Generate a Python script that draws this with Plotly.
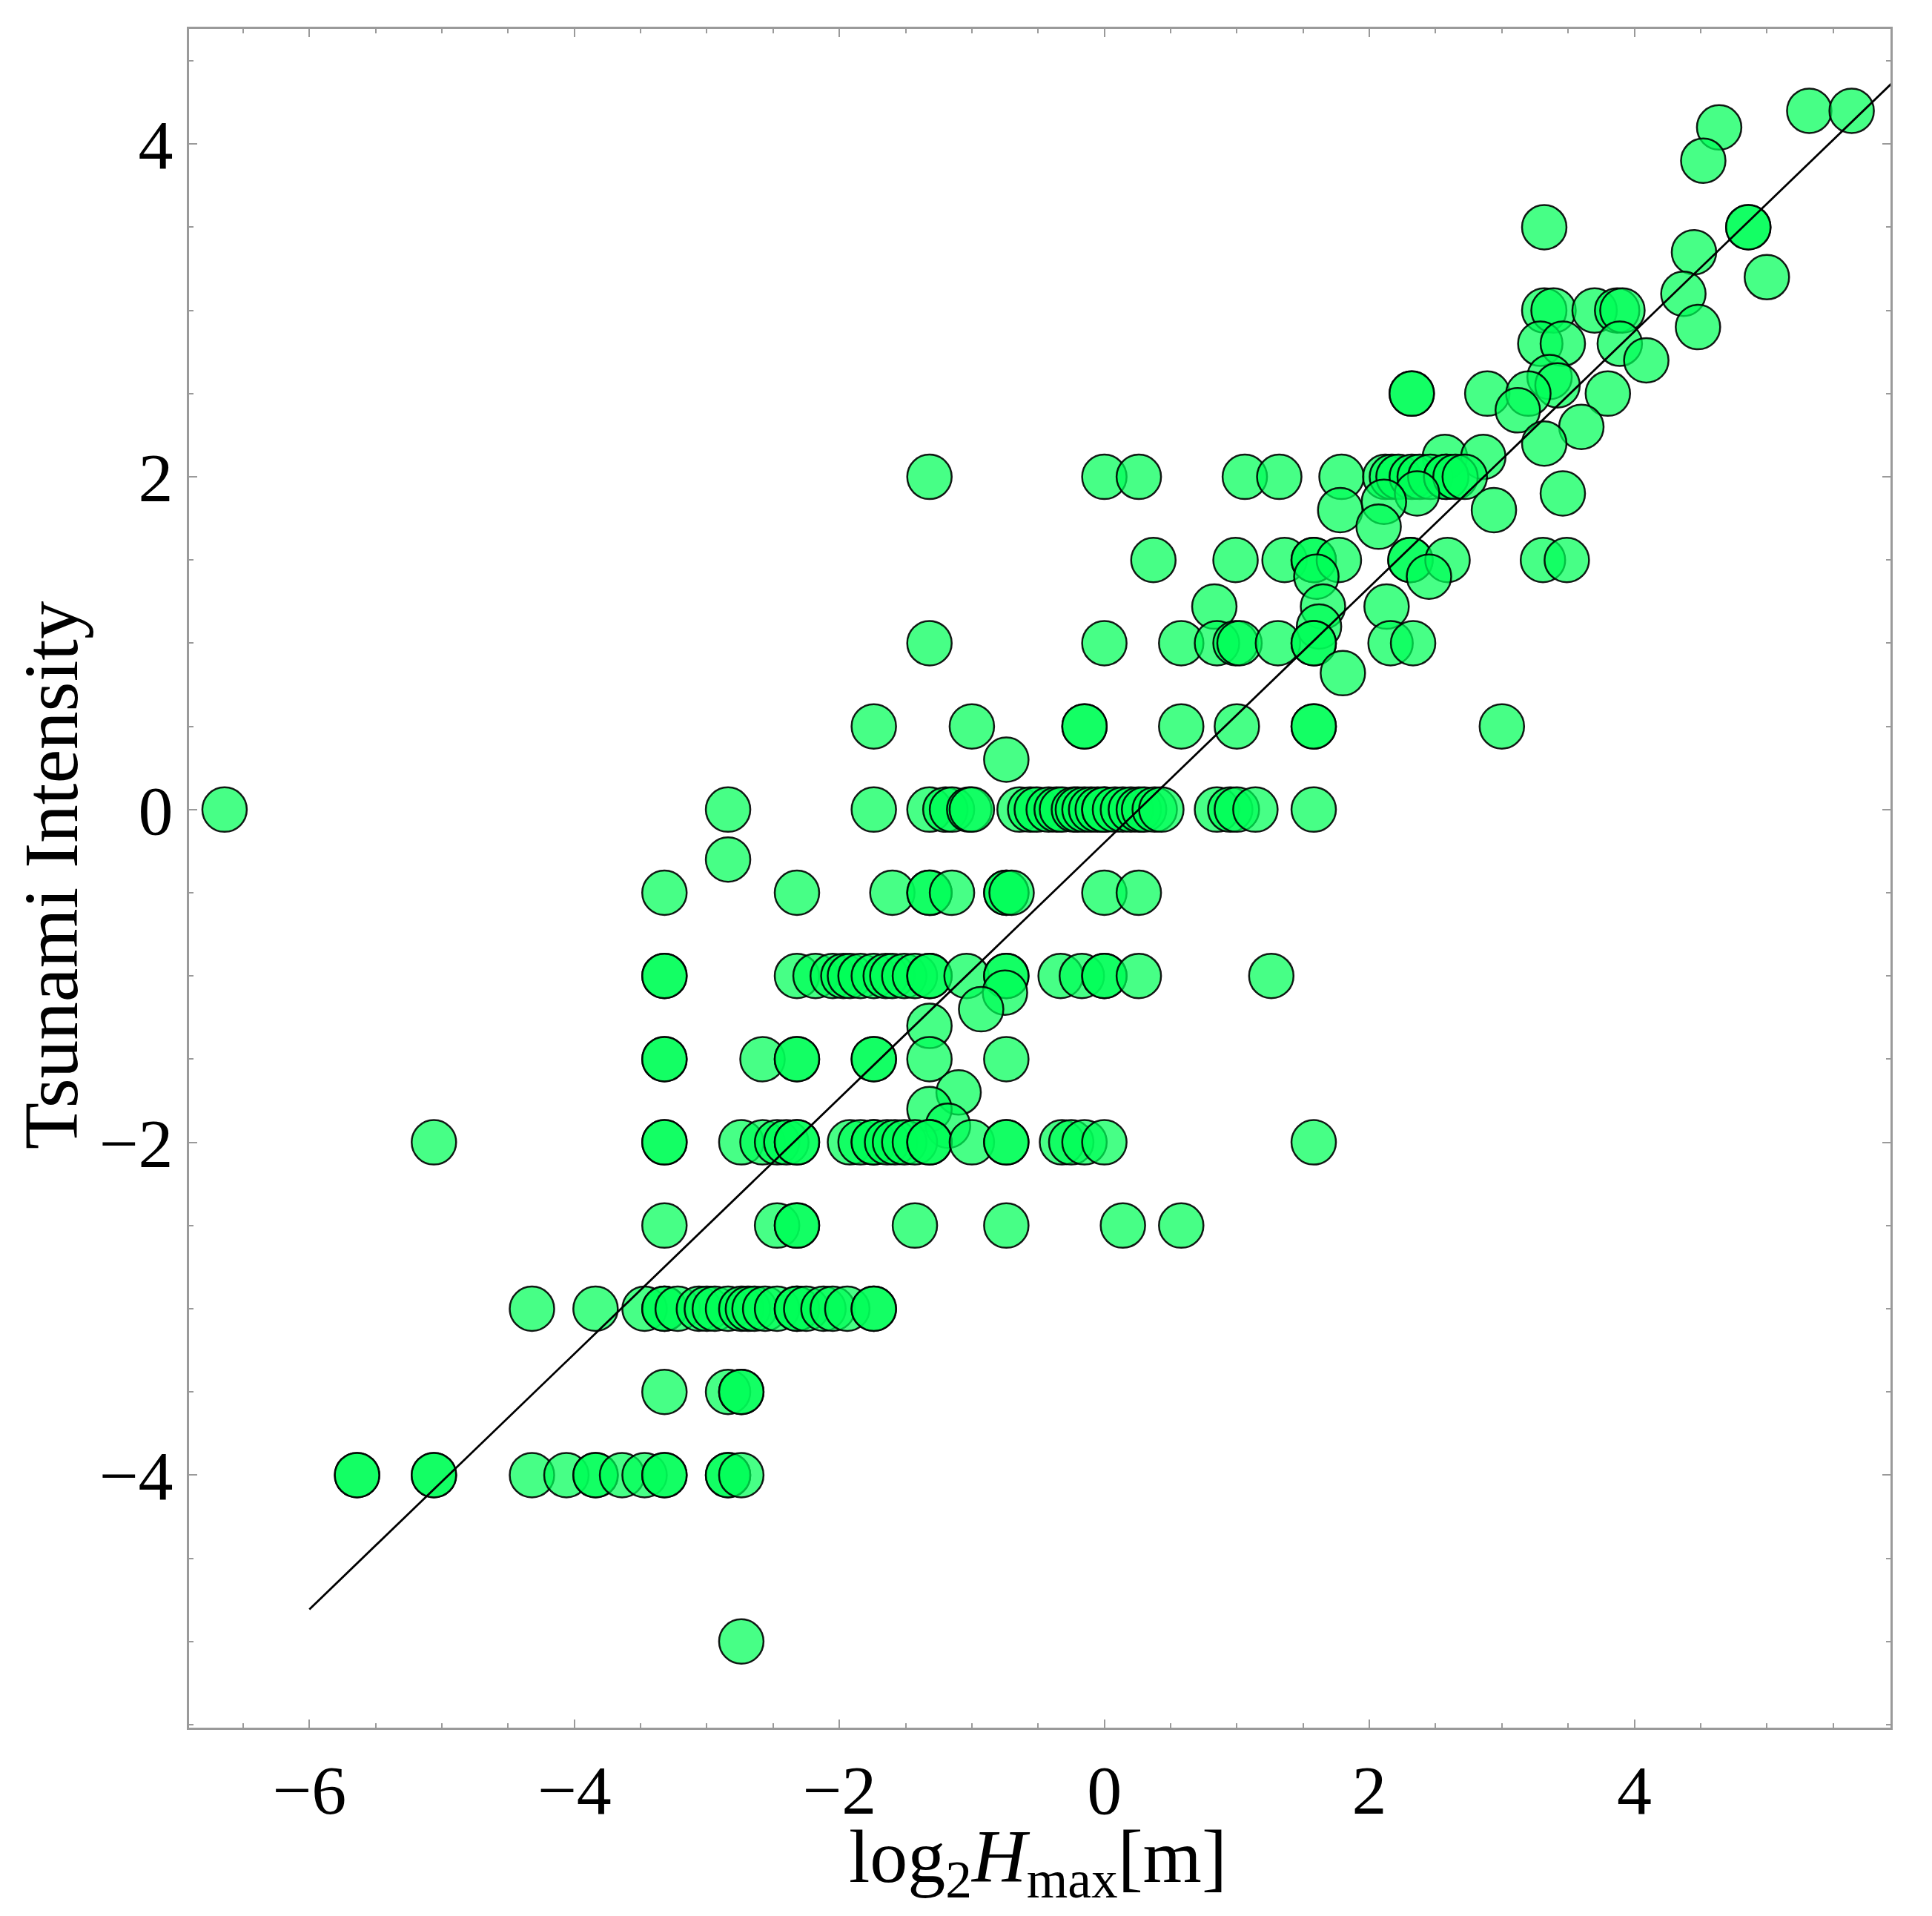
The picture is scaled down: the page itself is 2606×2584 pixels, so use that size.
import plotly.graph_objects as go

# log2 of max tsunami height [m] and tsunami intensity, read row by row
log2_hmax = [
    5.32, 5.64,
    4.64,
    4.52,
    3.32, 4.86, 4.86,
    4.45,
    5.0,
    4.37,
    3.32, 3.39, 3.70, 3.87, 3.91,
    4.48,
    3.29, 3.46, 3.89,
    4.09,
    3.36,
    3.42,
    2.32, 2.32, 2.89, 3.2, 3.8,
    3.12,
    3.6,
    3.32,
    2.57, 2.86,
    -1.32, 0.0, 0.26, 1.06, 1.32, 1.79, 2.12, 2.17, 2.22, 2.32, 2.38, 2.46, 2.58, 2.58, 2.65, 2.72,
    2.36, 3.46,
    2.11,
    1.78, 2.94,
    2.07,
    0.37, 0.99, 1.36, 1.58, 1.58, 1.77, 2.31, 2.31, 2.59, 3.31, 3.49,
    1.6, 2.45,
    0.83, 1.65, 2.13,
    1.62,
    -1.32, 0.0, 0.58, 0.85, 0.99, 1.02, 1.31, 1.58, 1.58, 2.16, 2.33,
    1.8,
    -1.74, -1.0, -0.15, -0.15, 0.58, 1.0, 1.58, 1.58, 3.0,
    -0.74,
    -6.64, -2.84, -1.74, -1.32, -1.2, -1.15, -1.02, -1.0, -0.64, -0.56, -0.51, -0.42,
    -0.36, -0.32, -0.23, -0.2, -0.15, -0.1, -0.05, 0.0, 0.0, 0.08, 0.14, 0.2, 0.26,
    0.3, 0.38, 0.43, 0.85, 0.95, 1.0, 1.14, 1.58,
    -2.84,
    -3.32, -2.32, -1.6, -1.32, -1.32, -1.15, -0.74, -0.74, -0.70, 0.0, 0.26,
    -3.32, -3.32, -2.32, -2.18, -2.05, -1.97, -1.92, -1.84, -1.74, -1.65, -1.6, -1.51,
    -1.43, -1.32, -1.32, -1.04, -0.74, -0.74, -0.33, -0.17, 0.0, 0.0, 0.26, 1.26,
    -0.75,
    -0.93,
    -1.32,
    -3.32, -3.32, -2.58, -2.32, -2.32, -1.74, -1.74, -1.32, -0.74,
    -1.1,
    -1.32,
    -1.18,
    -5.06, -3.32, -3.32, -2.74, -2.58, -2.47, -2.4, -2.32, -2.32, -1.92, -1.84, -1.74,
    -1.74, -1.64, -1.58, -1.51, -1.43, -1.32, -1.32, -1.0, -0.74, -0.74, -0.32, -0.25,
    -0.15, 0.0, 1.58,
    -3.32, -2.47, -2.32, -2.32, -1.43, -0.74, 0.14, 0.58,
    -4.32, -3.84, -3.47, -3.32, -3.32, -3.22, -3.06, -3.0, -2.94, -2.84, -2.74, -2.69,
    -2.64, -2.56, -2.47, -2.32, -2.32, -2.25, -2.12, -2.05, -1.94, -1.74, -1.74,
    -3.32, -2.84, -2.74, -2.74,
    -5.64, -5.64, -5.06, -5.06, -4.32, -4.06, -3.84, -3.84, -3.64, -3.47, -3.32, -3.32,
    -2.84, -2.84, -2.74,
    -2.74,
]

tsunami_intensity = (
    [4.2] * 2 + [4.1] + [3.9] + [3.5] * 3 + [3.35] + [3.2] + [3.1] + [3.0] * 5
    + [2.9] + [2.8] * 3 + [2.7] + [2.6] + [2.55] + [2.5] * 5 + [2.4] + [2.3] + [2.2]
    + [2.12] * 2 + [2.0] * 16 + [1.9] * 2 + [1.85] + [1.8] * 2 + [1.7] + [1.5] * 11
    + [1.4] * 2 + [1.22] * 3 + [1.1] + [1.0] * 11 + [0.82] + [0.5] * 9 + [0.3]
    + [0.0] * 33 + [-0.3] + [-0.5] * 11 + [-1.0] * 24 + [-1.1] + [-1.2] + [-1.3]
    + [-1.5] * 9 + [-1.7] + [-1.8] + [-1.9] + [-2.0] * 27 + [-2.5] * 8 + [-3.0] * 23
    + [-3.5] * 4 + [-4.0] * 15 + [-5.0]
)

# fitted line
fit_slope = 0.768
fit_intercept = -0.199
fit_x = [-6.0, 6.0]

X_TITLE = "log<sub>2</sub><i>H</i><sub>max</sub>[m]"
Y_TITLE = "Tsunami Intensity"

FONT = "Liberation Serif"
FRAME = "#9a9a9a"

fig = go.Figure()

fig.add_trace(go.Scatter(
    x=log2_hmax,
    y=tsunami_intensity,
    mode="markers",
    marker=dict(
        size=60,
        color="rgba(0,255,88,0.72)",
        line=dict(color="rgba(0,0,0,0.9)", width=2.5),
    ),
    showlegend=False,
))

fig.add_trace(go.Scatter(
    x=fit_x,
    y=[fit_slope * v + fit_intercept for v in fit_x],
    mode="lines",
    line=dict(color="black", width=2.8),
    showlegend=False,
))

axis_style = dict(
    showline=True,
    linecolor=FRAME,
    linewidth=2.5,
    mirror="ticks",
    ticks="inside",
    ticklen=11,
    tickwidth=2,
    tickcolor=FRAME,
    dtick=2,
    showgrid=False,
    zeroline=False,
    automargin=False,
    tickfont=dict(family=FONT, size=94, color="black"),
    minor=dict(dtick=0.5, ticks="inside", ticklen=6, tickwidth=1.5, tickcolor=FRAME, showgrid=False),
)

fig.update_xaxes(range=[-6.908, 5.933], tick0=0, **axis_style)
fig.update_yaxes(range=[-5.518, 4.692], tick0=0, **axis_style)

# axis titles as annotations so they sit where the reference has them
fig.add_annotation(
    text=X_TITLE, xref="paper", yref="paper", x=0.499, y=-0.079,
    xanchor="center", yanchor="middle", showarrow=False,
    font=dict(family=FONT, size=102, color="black"),
)
fig.add_annotation(
    text=Y_TITLE, xref="paper", yref="paper", x=-0.081, y=0.502,
    xanchor="center", yanchor="middle", textangle=-90, showarrow=False,
    font=dict(family=FONT, size=103, color="black"),
)

fig.update_layout(
    width=2606,
    height=2584,
    margin=dict(l=247, r=64, t=31, b=262),
    plot_bgcolor="white",
    paper_bgcolor="white",
)

fig.write_html("out.html")
